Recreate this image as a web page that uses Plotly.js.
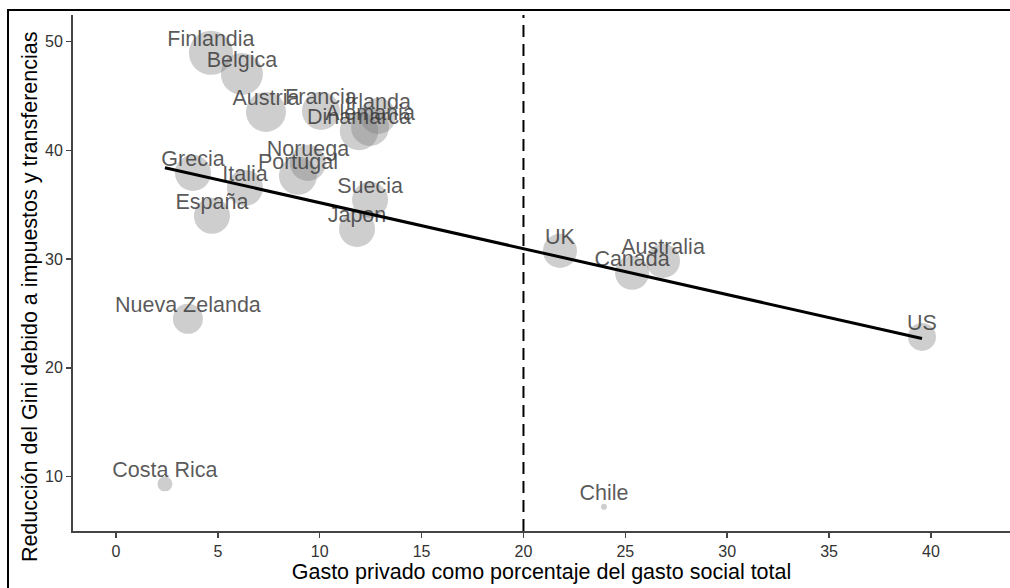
<!DOCTYPE html>
<html>
<head>
<meta charset="utf-8">
<script src="https://cdn.plot.ly/plotly-3.0.1.min.js"></script>
<style>
  html, body { margin: 0; padding: 0; background: #fff; }
  #wrap { position: relative; width: 1010px; height: 588px; overflow: hidden; }
  #chart { position: absolute; left: 0; top: 0; width: 1010px; height: 588px; }
  #frame { position: absolute; left: 7px; top: 9px; width: 1100px; height: 700px;
           border-left: 2px solid #000; border-top: 2px solid #000; pointer-events: none; }
</style>
</head>
<body>
<div id="wrap">
  <div id="chart"></div>
  <div id="frame"></div>
</div>
<script>
// ---- data ----
const paises = ["Finlandia","Belgica","Austria","Francia","Irlanda","Alemania","Dinamarca",
                "Noruega","Portugal","Grecia","Italia","España","Suecia","Japon",
                "UK","Canada","Australia","US","Nueva Zelanda","Costa Rica","Chile"];
const gastoPrivado = [4.66, 6.18, 7.36, 10.06, 12.86, 12.47, 11.93,
                      9.42, 8.93, 3.78, 6.33, 4.71, 12.47, 11.83,
                      21.79, 25.33, 26.85, 39.56, 3.53, 2.40, 23.95];
const reduccionGini = [48.97, 47.03, 43.54, 43.63, 43.17, 42.16, 41.79,
                       38.85, 37.66, 37.93, 36.55, 33.98, 35.45, 32.78,
                       30.76, 28.74, 29.84, 22.85, 24.51, 9.33, 7.22];
const gastoSocial = [30.0, 27.9, 26.0, 24.2, 22.5, 24.2, 24.6,
                     22.5, 24.2, 22.5, 22.5, 22.5, 22.5, 22.5,
                     20.9, 20.9, 20.9, 16.7, 18.0, 11.1, 10.0];
const ajusteX = [2.40, 39.56];
const ajusteY = [38.4, 22.7];
const umbral = 20;
const xTicks = [0, 5, 10, 15, 20, 25, 30, 35, 40];
const yTicks = [10, 20, 30, 40, 50];
const tituloX = "Gasto privado como porcentaje del gasto social total";
const tituloY = "Reducción del Gini debido a impuestos y transferencias";

// ---- size scale (area-like, as in ggplot scale_size) ----
const sMin = Math.min(...gastoSocial), sMax = Math.max(...gastoSocial);
const dMin = 6, dMax = 44;
const diam = gastoSocial.map(v => dMin + (dMax - dMin) * Math.sqrt((v - sMin) / (sMax - sMin)));
const nudgeY = 1.15;
const font = "Liberation Sans, Arial, Helvetica, sans-serif";

const traces = [
  {
    type: "scatter", mode: "markers",
    x: gastoPrivado, y: reduccionGini,
    marker: { size: diam, sizemode: "diameter", color: "rgba(120,120,120,0.52)", line: { width: 0 } },
    hoverinfo: "skip", showlegend: false
  },
  {
    type: "scatter", mode: "text",
    x: gastoPrivado, y: reduccionGini.map(v => v + nudgeY),
    text: paises, textposition: "middle center",
    textfont: { family: font, size: 21.5, color: "rgba(60,60,60,0.85)" },
    hoverinfo: "skip", showlegend: false
  },
  {
    type: "scatter", mode: "lines",
    x: ajusteX, y: ajusteY,
    line: { color: "#000", width: 3 },
    hoverinfo: "skip", showlegend: false
  }
];

const layout = {
  width: 1010, height: 588,
  margin: { l: 73, r: 0, t: 15, b: 57 },
  paper_bgcolor: "#fff", plot_bgcolor: "#fff",
  font: { family: font, color: "#000" },
  xaxis: {
    range: [-2.11, 43.88], tickvals: xTicks, ticktext: xTicks.map(String),
    showgrid: false, zeroline: false, showline: true, linecolor: "#444", linewidth: 2,
    ticks: "outside", ticklen: 5, tickwidth: 1.5, tickcolor: "#444",
    tickfont: { family: font, size: 16, color: "#333" },
    title: { text: tituloX, font: { family: font, size: 21.5, color: "#000" }, standoff: 4 }
  },
  yaxis: {
    range: [5.0, 52.45], tickvals: yTicks, ticktext: yTicks.map(String),
    showgrid: false, zeroline: false, showline: true, linecolor: "#444", linewidth: 2,
    ticks: "outside", ticklen: 5, tickwidth: 1.5, tickcolor: "#444",
    tickfont: { family: font, size: 16, color: "#333" }
  },
  annotations: [
    { text: tituloY, xref: "paper", yref: "paper", x: -0.046, y: 0.455,
      xanchor: "center", yanchor: "middle", textangle: -90, showarrow: false,
      font: { family: font, size: 21.5, color: "#000" } }
  ],
  shapes: [
    { type: "line", xref: "x", yref: "paper", x0: umbral, x1: umbral, y0: 0, y1: 1,
      line: { color: "#000", width: 2, dash: "12px,7px" }, layer: "above" }
  ]
};

Plotly.newPlot("chart", traces, layout, { staticPlot: true, displayModeBar: false });
</script>
</body>
</html>
